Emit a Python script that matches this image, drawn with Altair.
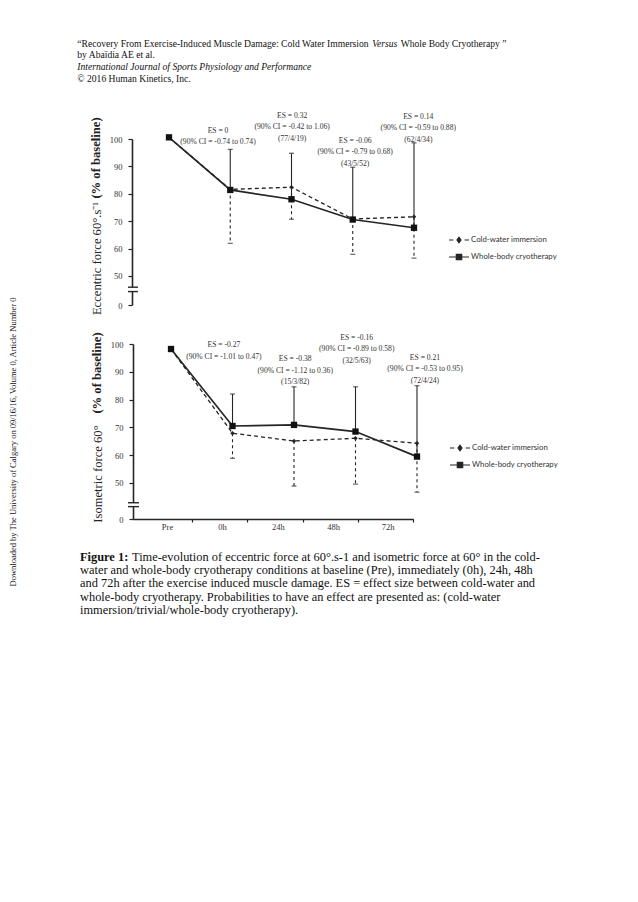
import altair as alt
import pandas as pd

# ---------------- data ----------------
times = ["Pre", "0h", "24h", "48h", "72h"]
series = ["Cold-water immersion", "Whole-body cryotherapy"]

# Eccentric force 60°.s-1 (% of baseline)
ecc_cwi = [100.6, 81.6, 82.4, 70.8, 71.6]
ecc_wbc = [100.6, 81.4, 78.0, 70.6, 67.6]
ecc_cwi_lower = [None, 61.9, 70.7, 57.9, 56.5]
ecc_wbc_upper = [None, 96.2, 94.8, 89.7, 98.6]

# Isometric force 60° (% of baseline)
iso_cwi = [98.2, 67.9, 65.1, 66.1, 64.3]
iso_wbc = [98.2, 70.5, 70.9, 68.5, 59.5]
iso_cwi_lower = [None, 58.9, 48.9, 49.6, 46.7]
iso_wbc_upper = [None, 82.0, 84.6, 84.6, 85.0]

y_tick_values = [50, 60, 70, 80, 90, 100]

ecc_es_text = [
    ["ES = 0", "(90% CI = -0.74 to 0.74)"],
    ["ES = 0.32", "(90% CI = -0.42 to 1.06)", "(77/4/19)"],
    ["ES = -0.06", "(90% CI = -0.79 to 0.68)", "(43/5/52)"],
    ["ES = 0.14", "(90% CI = -0.59 to 0.88)", "(62/4/34)"],
]
iso_es_text = [
    ["ES = -0.27", "(90% CI = -1.01 to 0.47)"],
    ["ES = -0.38", "(90% CI = -1.12 to 0.36)", "(15/3/82)"],
    ["ES = -0.16", "(90% CI = -0.89 to 0.58)", "(32/5/63)"],
    ["ES = 0.21", "(90% CI = -0.53 to 0.95)", "(72/4/24)"],
]
# annotation anchors (time-index units, % units of first line)
ecc_es_at = [0.80, 2.01, 3.04, 4.07]
ecc_es_top = [102.9, 108.4, 99.3, 108.0]
iso_es_at = [0.86, 2.02, 3.02, 4.13]
iso_es_top = [99.6, 94.6, 102.2, 95.0]

ecc_title = "Eccentric force 60\u00b0.s\u207b\u00b9"
iso_title = "Isometric force 60\u00b0"
title_suffix = "(% of baseline)"

header_lines = [
    "\u201cRecovery From Exercise-Induced Muscle Damage: Cold Water Immersion",
    "Versus",
    "Whole Body Cryotherapy \u201d",
    "by Aba\u00efdia AE et al.",
    "International Journal of Sports Physiology and Performance",
    "\u00a9 2016 Human Kinetics, Inc.",
]
caption_bold = "Figure 1:"
caption_lines = [
    "Time-evolution of eccentric force at 60\u00b0.s-1 and isometric force at 60\u00b0 in the cold-",
    "water and whole-body cryotherapy conditions at baseline (Pre), immediately (0h), 24h, 48h",
    "and 72h after the exercise induced muscle damage. ES = effect size between cold-water and",
    "whole-body cryotherapy. Probabilities to have an effect are presented as: (cold-water",
    "immersion/trivial/whole-body cryotherapy).",
]
side_note = "Downloaded by The University of Calgary on 09/16/16, Volume 0, Article Number 0"

# ---------------- styling ----------------
SERIF = "Liberation Serif"
SANS = "Lato"
INK = "#252525"
TXT = "#333333"

legend_paths = [
    "M-1,0L-0.56,0M0.56,0L1,0M0,-0.27L0.2,0L0,0.27L-0.2,0Z",
    "M-1,0L1,0M-0.27,-0.27L0.27,-0.27L0.27,0.27L-0.27,0.27Z",
]


def text_layer(txt, x, y, size, color="#111111", **kw):
    return alt.Chart(pd.DataFrame({"text": [txt]})).mark_text(
        font=SERIF, fontSize=size, color=color, **kw
    ).encode(x=alt.value(x), y=alt.value(y), text="text:N")


def panel(cwi, wbc, lower, upper, xs, ys, yaxis, xaxis, es_text, es_at, es_top,
          es_gap, legend_xy, brk, brk_x):
    df = pd.DataFrame({"t": list(range(len(times))), "time": times, "cwi": cwi,
                       "wbc": wbc, "lower": lower, "upper": upper})
    base = alt.Chart(df)
    xn = alt.X("t:Q", scale=xs, axis=None)

    def Y(f):
        return alt.Y(f + ":Q", scale=ys, axis=None)

    layers = []
    # axis break
    layers.append(alt.Chart(pd.DataFrame({"a": [0]})).mark_rect(color="white").encode(
        x=alt.value(brk_x[0] + 2), x2=alt.value(brk_x[1] - 4),
        y=alt.YDatum(brk[0], scale=ys, axis=None), y2=alt.Y2Datum(brk[1])))
    for b in brk:
        layers.append(alt.Chart(pd.DataFrame({"a": [0]})).mark_rule(color=INK, strokeWidth=1.4).encode(
            x=alt.value(brk_x[0]), x2=alt.value(brk_x[1]), y=alt.YDatum(b, scale=ys, axis=None)))

    layers.append(base.mark_line(color=INK, strokeWidth=1.3, strokeDash=[4, 3]).encode(
        x=alt.X("t:Q", scale=xs, axis=xaxis), y=alt.Y("cwi:Q", scale=ys, axis=yaxis)))
    layers.append(base.mark_line(color=INK, strokeWidth=1.7).encode(x=xn, y=Y("wbc")))
    lo = base.transform_filter("isValid(datum.lower)")
    up = base.transform_filter("isValid(datum.upper)")
    layers.append(lo.mark_rule(color=INK, strokeWidth=1.1, strokeDash=[3, 3]).encode(
        x=xn, y=Y("cwi"), y2="lower:Q"))
    layers.append(up.mark_rule(color=INK, strokeWidth=1.1).encode(x=xn, y=Y("wbc"), y2="upper:Q"))
    layers.append(lo.mark_tick(color=INK, orient="horizontal", size=5, thickness=1.2).encode(
        x=xn, y=Y("lower")))
    layers.append(up.mark_tick(color=INK, orient="horizontal", size=5, thickness=1.2).encode(
        x=xn, y=Y("upper")))
    layers.append(base.mark_point(shape="diamond", filled=True, size=20, color=INK, opacity=1).encode(
        x=xn, y=Y("cwi")))
    layers.append(base.mark_point(shape="square", filled=True, size=40, color="#111111", opacity=1).encode(
        x=xn, y=Y("wbc")))

    rows = []
    for lines, a, tp in zip(es_text, es_at, es_top):
        for k, s in enumerate(lines):
            rows.append({"at": a, "top": tp, "k": k, "text": s})
    es_df = pd.DataFrame(rows)
    for k in range(3):
        layers.append(alt.Chart(es_df).transform_filter(f"datum.k == {k}").mark_text(
            font=SERIF, fontSize=7.6, color=TXT, baseline="middle", align="center", dy=k * es_gap
        ).encode(x=alt.X("at:Q", scale=xs, axis=None), y=alt.Y("top:Q", scale=ys, axis=None),
                 text="text:N"))

    # legend carrier (draws nothing in the plot, only its legend)
    layers.append(alt.Chart(pd.DataFrame({"series": series})).transform_filter("false").mark_point(
        filled=True, fill=INK, stroke=INK, strokeWidth=1.2, size=400, opacity=1
    ).encode(shape=alt.Shape("series:N", scale=alt.Scale(domain=series, range=legend_paths),
                             legend=alt.Legend(orient="none", legendX=legend_xy[0], legendY=legend_xy[1],
                                               title=None, labelFont=SANS, labelFontSize=7.8,
                                               labelColor=TXT, labelOffset=1, rowPadding=-2,
                                               symbolSize=400, symbolStrokeWidth=1.2,
                                               symbolOpacity=1, padding=0))))
    return layers


def yaxis(ymin, title, title_y, offset):
    return alt.Axis(
        values=[ymin] + y_tick_values, labelExpr="datum.value < 45 ? '0' : datum.label",
        orient="left", offset=offset, title=title, titleX=-32, titleY=title_y, titleAngle=270,
        titleBaseline="alphabetic", titleFont=SERIF, titleFontSize=12.6, titleFontWeight="normal",
        titleColor="#222222", labelFont=SERIF, labelFontSize=8.5, labelColor=TXT, labelPadding=6,
        tickSize=4, tickWidth=1.2, tickColor=INK, domainColor=INK, domainWidth=1.6, grid=False,
        labelOverlap=False, labelBound=False, labelFlush=False)


# bottom x axis: ticks at the boundaries, labels shifted back into the bands
x_tick_vals = [0.341, 1.236, 2.146, 3.041, 3.927]
expr = f"'{times[-1]}'"
for i in range(len(times) - 2, -1, -1):
    mid = (x_tick_vals[i] + x_tick_vals[i + 1]) / 2
    expr = f"datum.value < {mid:.3f} ? '{times[i]}' : " + expr
x_axis = alt.Axis(values=x_tick_vals, labelExpr=expr, labelOffset=-25, orient="bottom", offset=-375,
                  title=None, tickSize=3, tickWidth=1.2, tickColor=INK, labelPadding=0,
                  labelFont=SERIF, labelFontSize=8.5, labelColor=TXT, domainColor=INK,
                  domainWidth=1.6, grid=False, labelOverlap=False, labelBound=False, labelFlush=False)

top = panel(ecc_cwi, ecc_wbc, ecc_cwi_lower, ecc_wbc_upper,
            alt.Scale(domain=[0, 4], range=[161, 406], nice=False, zero=False),
            alt.Scale(domain=[39.4, 100], range=[297, 131], nice=False, zero=False),
            yaxis(39.4, ecc_title, 250, -124),
            None, ecc_es_text, ecc_es_at, ecc_es_top, 11.3, (440, 221), [45.9, 44.3], (120, 130))

bottom = panel(iso_cwi, iso_wbc, iso_cwi_lower, iso_wbc_upper,
               alt.Scale(domain=[-0.62, 3.94], range=[124.9, 405.3], nice=False, zero=False),
               alt.Scale(domain=[37.05, 100], range=[511, 336], nice=False, zero=False),
               yaxis(37.05, iso_title, 465.5, -125),
               x_axis, iso_es_text, iso_es_at, iso_es_top, 11.5, (441, 429), [42.9, 41.5], (120, 131))

page = []
# bold "(% of baseline)" part of the two y titles
page.append(text_layer(title_suffix, 92, 150, 12.6, color="#222222", align="center",
                       baseline="alphabetic", angle=270, fontWeight="bold"))
page.append(text_layer(title_suffix, 93, 365, 12.6, color="#222222", align="center",
                       baseline="alphabetic", angle=270, fontWeight="bold"))
# header
hx = 69.3
hs = 9.6
page.append(text_layer(header_lines[0], hx, 35.5, hs, align="left", baseline="middle"))
page.append(text_layer(header_lines[1], hx + 30.715 * hs, 35.5, hs, align="left", baseline="middle",
                       fontStyle="italic"))
page.append(text_layer(header_lines[2], hx + (30.715 + 2.722 + 0.25) * hs, 35.5, hs, align="left",
                       baseline="middle"))
page.append(text_layer(header_lines[3], hx, 47.2, hs, align="left", baseline="middle"))
page.append(text_layer(header_lines[4], hx, 58.9, hs, align="left", baseline="middle", fontStyle="italic"))
page.append(text_layer(header_lines[5], hx, 70.6, hs, align="left", baseline="middle"))
# caption
page.append(text_layer(caption_bold, 72, 548.5, 12.4, align="left", baseline="middle", fontWeight="bold"))
for i, line in enumerate(caption_lines):
    page.append(text_layer(line, 124 if i == 0 else 72, 548.5 + 13.4 * i, 12.4, align="left",
                           baseline="middle"))
# side note
page.append(text_layer(side_note, 4.5, 434, 8.5, align="center", baseline="middle", angle=270))

chart = alt.layer(*top, *bottom, *page).resolve_scale(
    x="independent", y="independent", shape="independent"
).properties(
    width=622, height=886, padding=0, autosize=alt.AutoSizeParams(type="none"), background="white"
).configure_view(stroke=None)

chart.save("out.html", embed_options={"renderer": "svg", "actions": False})
